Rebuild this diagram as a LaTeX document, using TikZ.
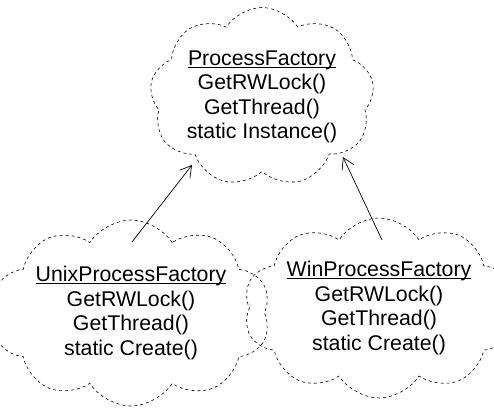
\documentclass[tikz,border=0pt]{standalone}
\usepackage{fontspec}
\setmainfont{Liberation Sans}
\usetikzlibrary{arrows.meta,positioning,shapes.symbols}
\newcommand{\clsname}[1]{\setbox0\hbox{#1}\rlap{\rule[-2.2pt]{\wd0}{0.7pt}}\box0}
\tikzset{
  cls/.style={cloud, cloud puffs=9, cloud puff arc=115, cloud ignores aspect,
    draw=black, line width=0.6pt, dash pattern=on 3pt off 3pt,
    align=center, inner sep=0pt, font=\fontsize{21.3}{24.5}\selectfont},
  inherit/.style={-{Straight Barb[length=11pt, width=13pt]}, line width=0.7pt},
}

\begin{document}
\begin{tikzpicture}[x=1pt,y=-1pt]
  \useasboundingbox (0,0) rectangle (494,409);
  % base class on top, the two platform classes below it
  \node[cls, minimum width=217pt, minimum height=179pt] (proc) at (262,97)
    {\clsname{ProcessFactory}\\ GetRWLock()\\ GetThread()\\ static Instance()};
  \node[cls, cloud puffs=10, minimum width=236pt, minimum height=186pt] (unix) at (131,313)
    {\clsname{UnixProcessFactory}\\ GetRWLock()\\ GetThread()\\ static Create()};
  \node[cls, cloud puffs=10, minimum width=231pt, minimum height=180pt] (win) at (379,308)
    {\clsname{WinProcessFactory}\\ GetRWLock()\\ GetThread()\\ static Create()};
  % arrows start in the dip of the lower clouds
  \draw[inherit] ([xshift=1pt,yshift=71pt]unix.center) -- ([xshift=-70pt,yshift=-68pt]proc.center);
  \draw[inherit] ([xshift=3pt,yshift=68pt]win.center) -- ([xshift=81pt,yshift=-60pt]proc.center);
\end{tikzpicture}
\end{document}
